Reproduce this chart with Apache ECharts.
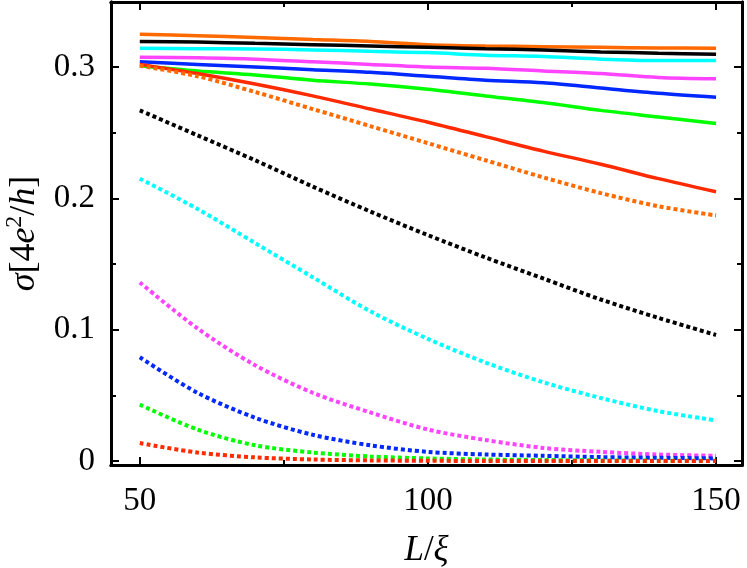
<!DOCTYPE html>
<html>
<head>
<meta charset="utf-8">
<script src="https://cdn.jsdelivr.net/npm/echarts@6/dist/echarts.min.js"></script>
<style>
  html, body { margin: 0; padding: 0; background: #fff; }
  #chart { width: 747px; height: 568px; }
</style>
</head>
<body>
<div id="chart"></div>
<script>
// x positions (L/xi)
const lengths = [50, 60, 70, 80, 90, 100, 110, 120, 130, 140, 150];

// solid curves
const orangeSolid  = [0.325, 0.3238, 0.3225, 0.321, 0.3195, 0.317, 0.316, 0.3155, 0.315, 0.3145, 0.3143];
const blackSolid   = [0.3195, 0.319, 0.318, 0.317, 0.316, 0.315, 0.314, 0.313, 0.3115, 0.3105, 0.3097];
const cyanSolid    = [0.3143, 0.314, 0.3138, 0.313, 0.312, 0.311, 0.309, 0.308, 0.306, 0.305, 0.305];
const magentaSolid = [0.3075, 0.307, 0.306, 0.304, 0.302, 0.300, 0.299, 0.297, 0.295, 0.292, 0.291];
const blueSolid    = [0.304, 0.302, 0.300, 0.298, 0.296, 0.293, 0.290, 0.288, 0.284, 0.280, 0.277];
const greenSolid   = [0.301, 0.297, 0.294, 0.290, 0.287, 0.283, 0.278, 0.273, 0.267, 0.262, 0.257];
const redSolid     = [0.302, 0.295, 0.287, 0.278, 0.268, 0.258, 0.247, 0.236, 0.226, 0.215, 0.205];

// dotted curves
const orangeDot  = [0.301, 0.293, 0.281, 0.268, 0.255, 0.242, 0.229, 0.216, 0.204, 0.194, 0.187];
const blackDot   = [0.267, 0.248, 0.229, 0.209, 0.190, 0.172, 0.155, 0.139, 0.123, 0.109, 0.096];
const cyanDot    = [0.215, 0.192, 0.166, 0.140, 0.114, 0.093, 0.075, 0.060, 0.048, 0.038, 0.031];
const magentaDot = [0.136, 0.101, 0.073, 0.052, 0.037, 0.024, 0.016, 0.010, 0.007, 0.005, 0.004];
const blueDot    = [0.079, 0.052, 0.033, 0.020, 0.012, 0.007, 0.005, 0.004, 0.003, 0.0025, 0.002];
const greenDot   = [0.043, 0.024, 0.012, 0.0065, 0.0035, 0.002, 0.0012, 0.0008, 0.0005, 0.0003, 0.0002];
const redDot     = [0.0137, 0.0065, 0.0028, 0.0012, 0.0005, 0.0002, 0.0001, 0.0001, 0.0, 0.0, 0.0];

// ticks
const xMajor = [50, 100, 150];
const xMinor = [75, 125];
const yMajor = [0, 0.1, 0.2, 0.3];
const yMinor = [0.05, 0.15, 0.25];

const palette = {
  orange: '#ff6a00', black: '#000000', cyan: '#00ffff', magenta: '#ff44ff',
  blue: '#0028ff', green: '#00ff00', red: '#ff2a00'
};

const curves = [
  ['orange', orangeSolid, orangeDot],
  ['black', blackSolid, blackDot],
  ['cyan', cyanSolid, cyanDot],
  ['magenta', magentaSolid, magentaDot],
  ['blue', blueSolid, blueDot],
  ['green', greenSolid, greenDot],
  ['red', redSolid, redDot]
];

const FONT = '"Liberation Serif", "DejaVu Serif", serif';
const FS = 33;
const X_MIN = 45, X_MAX = 154.5, Y_MIN = -0.003, Y_MAX = 0.3495;

function frameAxis(kind, pos, ticks, len, showLabel) {
  const base = {
    type: 'value',
    position: pos,
    min: kind === 'x' ? X_MIN : Y_MIN,
    max: kind === 'x' ? X_MAX : Y_MAX,
    axisLine: { show: true, onZero: false, lineStyle: { color: '#000', width: 3 } },
    axisTick: { show: true, inside: true, length: len, customValues: ticks, lineStyle: { color: '#000', width: 2 } },
    axisLabel: { show: false },
    splitLine: { show: false }
  };
  if (showLabel) {
    base.axisLabel = {
      show: true, customValues: ticks, color: '#000',
      fontFamily: FONT, fontSize: FS,
      margin: kind === 'x' ? 20 : 16,
      formatter: v => (kind === 'y' ? (v === 0 ? '0' : v.toFixed(1)) : String(v))
    };
  }
  return base;
}

const xAxes = [
  Object.assign(frameAxis('x', 'bottom', xMajor, 8, true), {
    name: '{i|L}/{i|ξ}', nameLocation: 'middle', nameGap: 68,
    nameTextStyle: {
      color: '#000', fontFamily: FONT, fontSize: 35,
      rich: { i: { fontStyle: 'italic', fontFamily: FONT, fontSize: 35 } }
    }
  }),
  frameAxis('x', 'top', xMajor, 8, false),
  frameAxis('x', 'bottom', xMinor, 5, false),
  frameAxis('x', 'top', xMinor, 5, false)
];

const yAxes = [
  Object.assign(frameAxis('y', 'left', yMajor, 8, true), {
    name: '{i|σ}{n|[4}{i|e}{sup|2}{n|/}{i|h}{n|]}', nameLocation: 'middle', nameGap: 66, nameRotate: 90,
    nameTextStyle: {
      color: '#000', fontFamily: FONT, fontSize: 36,
      rich: {
        i: { fontStyle: 'italic', fontFamily: FONT, fontSize: 36, lineHeight: 40, verticalAlign: 'bottom' },
        n: { fontFamily: FONT, fontSize: 36, lineHeight: 40, verticalAlign: 'bottom' },
        sup: { fontFamily: FONT, fontSize: 24, lineHeight: 24, verticalAlign: 'top' }
      }
    }
  }),
  frameAxis('y', 'right', yMajor, 8, false),
  frameAxis('y', 'left', yMinor, 5, false),
  frameAxis('y', 'right', yMinor, 5, false)
];

const series = [];
curves.forEach(([name, solid]) => {
  series.push({
    type: 'line', name: name + ' solid', smooth: 0.3, showSymbol: false,
    data: lengths.map((x, i) => [x, solid[i]]),
    lineStyle: { color: palette[name], width: 3.5 }
  });
});
curves.forEach(([name, solid, dot]) => {
  series.push({
    type: 'line', name: name + ' dotted', smooth: 0.3, showSymbol: false,
    data: lengths.map((x, i) => [x, dot[i]]),
    lineStyle: { color: palette[name], width: 4, type: [4, 3] }
  });
});

const chart = echarts.init(document.getElementById('chart'), null, { renderer: 'canvas' });
chart.setOption({
  backgroundColor: '#fff',
  animation: false,
  grid: { left: 111, right: 5, top: 2, bottom: 103, outerBoundsMode: 'none', containLabel: false },
  xAxis: xAxes,
  yAxis: yAxes,
  series: series
});
</script>
</body>
</html>
